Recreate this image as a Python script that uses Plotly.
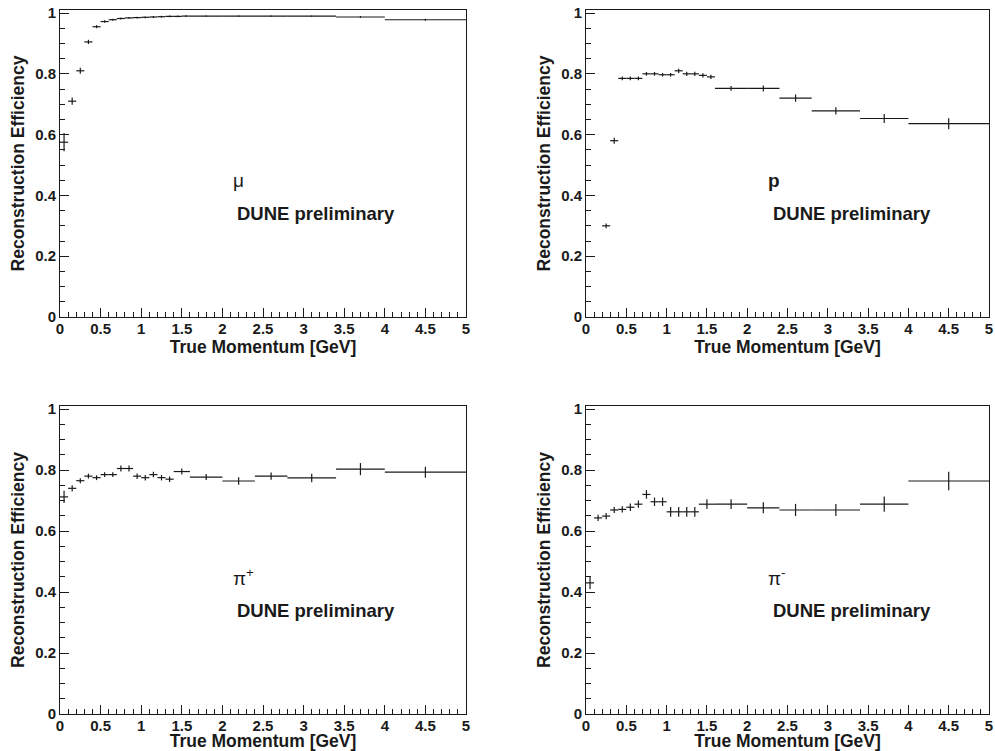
import plotly.graph_objects as go

# ---------------- data ----------------
fine_centers = [0.05, 0.15, 0.25, 0.35, 0.45, 0.55, 0.65, 0.75, 0.85, 0.95,
                1.05, 1.15, 1.25, 1.35, 1.45, 1.55]
coarse_centers = [1.8, 2.2, 2.6, 3.1, 3.7, 4.5]
coarse_half = [0.2, 0.2, 0.2, 0.3, 0.3, 0.5]

pion_fine_centers = [0.05, 0.15, 0.25, 0.35, 0.45, 0.55, 0.65, 0.75, 0.85, 0.95,
                     1.05, 1.15, 1.25, 1.35, 1.5]
pion_fine_half = [0.05] * 14 + [0.1]

mu_eff = [0.575, 0.71, 0.81, 0.905, 0.955, 0.972, 0.978, 0.982, 0.984, 0.985, 0.986,
          0.987, 0.988, 0.989, 0.989, 0.99, 0.99, 0.99, 0.99, 0.99, 0.987, 0.978]
mu_err = [0.03, 0.012, 0.01, 0.007, 0.005, 0.004, 0.003, 0.003, 0.003, 0.003, 0.003,
          0.003, 0.003, 0.003, 0.003, 0.003, 0.002, 0.002, 0.002, 0.002, 0.003, 0.003]

p_eff = [0.30, 0.58, 0.785, 0.785, 0.785, 0.80, 0.80, 0.797, 0.797, 0.81, 0.80, 0.80,
         0.795, 0.79, 0.752, 0.752, 0.72, 0.678, 0.653, 0.636]
p_err = [0.008, 0.01, 0.006, 0.006, 0.006, 0.006, 0.006, 0.006, 0.006, 0.007, 0.007,
         0.007, 0.007, 0.007, 0.008, 0.01, 0.012, 0.012, 0.015, 0.018]

pip_eff = [0.712, 0.74, 0.765, 0.78, 0.775, 0.785, 0.785, 0.805, 0.805, 0.78, 0.775,
           0.785, 0.775, 0.77, 0.795, 0.777, 0.764, 0.78, 0.774, 0.803, 0.793]
pip_err = [0.02, 0.01, 0.008, 0.008, 0.008, 0.008, 0.008, 0.01, 0.01, 0.009, 0.009,
           0.009, 0.009, 0.009, 0.01, 0.01, 0.012, 0.012, 0.014, 0.02, 0.018]

pim_eff = [0.43, 0.643, 0.649, 0.669, 0.671, 0.678, 0.688, 0.72, 0.696, 0.696, 0.663,
           0.663, 0.663, 0.663, 0.688, 0.688, 0.676, 0.669, 0.669, 0.688, 0.764]
pim_err = [0.02, 0.01, 0.01, 0.01, 0.01, 0.012, 0.012, 0.014, 0.014, 0.014, 0.016,
           0.016, 0.016, 0.016, 0.016, 0.016, 0.018, 0.02, 0.02, 0.025, 0.03]

panel_labels = ["μ", "<b>p</b>", "π<sup>+</sup>", "π<sup>-</sup>"]
tag_text = "DUNE preliminary"
x_title = "True Momentum [GeV]"
y_title = "Reconstruction Efficiency"

# ---------------- figure ----------------
W, H = 995, 751
FONT = "Liberation Sans, Arial, sans-serif"
INK = "#1a1a1a"

mu_x = fine_centers + coarse_centers
mu_w = [0.05] * len(fine_centers) + coarse_half
p_x = fine_centers[2:] + coarse_centers
p_w = [0.05] * (len(fine_centers) - 2) + coarse_half
pi_x = pion_fine_centers + coarse_centers
pi_w = pion_fine_half + coarse_half

panels = [
    (mu_x, mu_w, mu_eff, mu_err),
    (p_x, p_w, p_eff, p_err),
    (pi_x, pi_w, pip_eff, pip_err),
    (pi_x, pi_w, pim_eff, pim_err),
]

# pixel geometry -> paper domains
xdoms = [(60 / W, 466 / W), (586 / W, 989 / W)]
ydoms = [((H - 317) / H, (H - 10) / H), ((H - 714) / H, (H - 406) / H)]

fig = go.Figure()
for i, (xs, ws, ys, es) in enumerate(panels):
    n = i + 1
    xa = "x" if n == 1 else f"x{n}"
    ya = "y" if n == 1 else f"y{n}"
    fig.add_trace(go.Scatter(
        x=xs, y=ys, xaxis=xa, yaxis=ya, mode="markers",
        marker=dict(size=1, color=INK, opacity=0),
        error_x=dict(type="data", array=ws, width=0, thickness=1.2, color=INK),
        error_y=dict(type="data", array=es, width=0, thickness=1.2, color=INK),
        showlegend=False, hoverinfo="skip",
    ))

    col = i % 2
    row = i // 2
    axis_common = dict(showline=True, linecolor=INK, linewidth=1, mirror=True,
                       showgrid=False, zeroline=False, ticks="inside",
                       tickcolor=INK, automargin=False,
                       tickfont=dict(family=FONT, size=15, color=INK, weight="bold"))
    xkey = "xaxis" if n == 1 else f"xaxis{n}"
    ykey = "yaxis" if n == 1 else f"yaxis{n}"
    fig.update_layout(**{
        xkey: dict(axis_common, domain=list(xdoms[col]), anchor=ya,
                   range=[0, 5], dtick=0.5, tick0=0, ticklen=9,
                   ticklabelstandoff=-2,
                   minor=dict(dtick=0.1, ticklen=5, ticks="inside", tickcolor=INK),
                   title=dict(text=x_title, standoff=0,
                              font=dict(family=FONT, size=17.5, color=INK, weight="bold"))),
        ykey: dict(axis_common, domain=list(ydoms[row]), anchor=xa,
                   range=[0, 1.01], dtick=0.2, tick0=0, ticklen=9,
                   minor=dict(dtick=0.05, ticklen=5, ticks="inside", tickcolor=INK),
                   title=dict(text=y_title, standoff=6,
                              font=dict(family=FONT, size=17.5, color=INK, weight="bold"))),
    })

    label_x = 2.1 if col == 0 else 2.23
    fig.add_annotation(x=label_x, y=0.45, xref=xa, yref=ya, text=panel_labels[i],
                       showarrow=False, xanchor="left", yanchor="middle",
                       font=dict(family=FONT, size=19, color=INK))
    fig.add_annotation(x=label_x + 0.06, y=0.34, xref=xa, yref=ya, text=f"<b>{tag_text}</b>",
                       showarrow=False, xanchor="left", yanchor="middle",
                       font=dict(family=FONT, size=18.5, color=INK))

fig.update_layout(width=W, height=H, margin=dict(l=0, r=0, t=0, b=0),
                  paper_bgcolor="white", plot_bgcolor="white",
                  font=dict(family=FONT, color=INK))

fig.write_html("out.html")
